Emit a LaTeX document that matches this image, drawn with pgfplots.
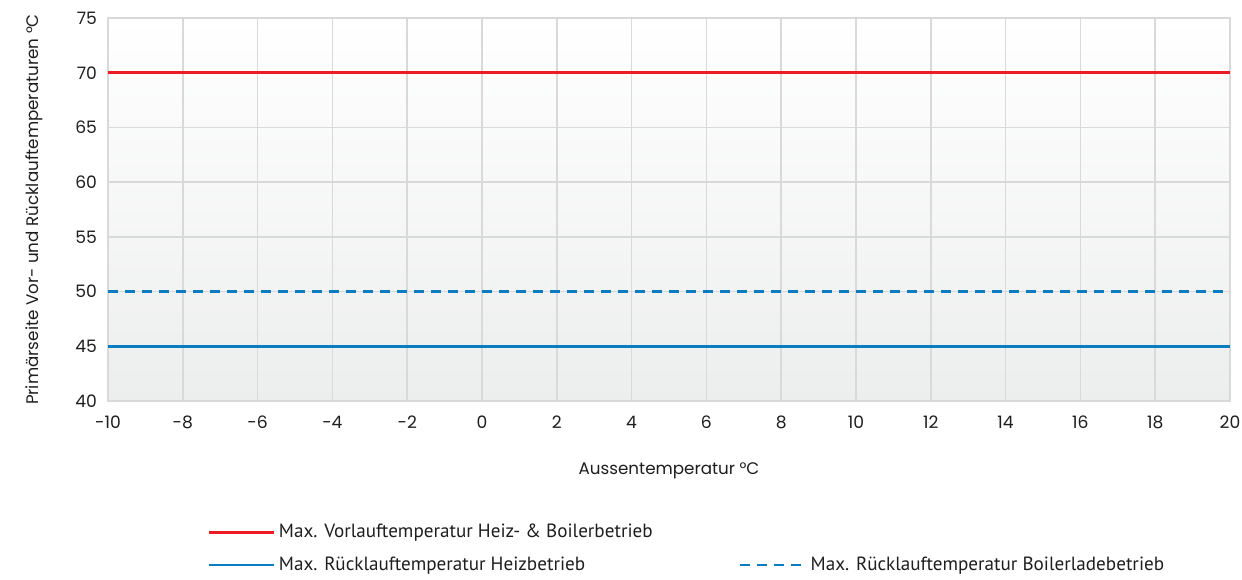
\documentclass[border=0pt]{standalone}
\usepackage{fontspec}
\setmainfont{Poppins}
\newfontfamily\legfont{PT Sans}
\usepackage{pgfplots}
\pgfplotsset{compat=1.18}

\definecolor{vlred}{RGB}{237,28,36}
\definecolor{rlblue}{RGB}{10,124,193}
\definecolor{gridgray}{RGB}{217,217,217}
\definecolor{bgbottom}{RGB}{236,238,237}
\definecolor{txt}{RGB}{30,30,30}

\begin{document}
\begin{tikzpicture}[x=1bp,y=1bp]
% frame of the page: 1242x579 px at 0.5 bp each
\path[use as bounding box] (-54,-89) rectangle (567,200.5);
\begin{axis}[
  at={(0,0)}, anchor=south west,
  scale only axis,
  width=561bp, height=191.5bp,
  xmin=-10, xmax=20,
  ymin=40, ymax=75,
  xtick={-10,-8,...,20},
  xticklabels={-10,-8,-6,-4,-2,0,2,4,6,8,10,12,14,16,18,20},
  ytick={40,45,...,75},
  grid=major,
  grid style={gridgray, line width=0.8bp},
  axis line style={gridgray, line width=0.8bp},
  major tick length=0pt,
  tick style={draw=none},
  axis background/.style={shade, top color=white, bottom color=bgbottom},
  tick label style={font=\fontsize{8.6}{10}\selectfont, text=txt},
  /pgf/number format/assume math mode=true,
  xticklabel style={yshift=-4bp},
  yticklabel style={xshift=-2bp},
  label style={font=\fontsize{8.4}{10}\selectfont, text=txt},
  xlabel={Aussentemperatur °C},
  xlabel style={at={(axis description cs:0.5,0)}, anchor=north, yshift=-27.5bp},
  ylabel={Primärseite Vor- und Rücklauftemperaturen °C},
  ylabel style={at={(axis description cs:0,0.5)}, anchor=south, yshift=29bp},
  legend columns=2,
  legend cell align=left,
  legend style={draw=none, fill=none, at={(0.088,-0.31)}, anchor=north west,
    font=\legfont\fontsize{9.6}{11}\selectfont, text=txt,
    inner sep=0pt, row sep=4bp,
    /tikz/every even column/.append style={column sep=0pt}},
  legend image code/.code={\draw[#1] (0bp,0bp) -- (32.5bp,0bp);},
]
\addplot[vlred, line width=1.4bp] coordinates {(-10,70) (20,70)};
\addlegendentry{\makebox[228bp][l]{Max. Vorlauftemperatur Heiz- \& Boilerbetrieb}}
\addlegendimage{empty legend}
\addlegendentry{}
\addplot[rlblue, line width=1.4bp] coordinates {(-10,45) (20,45)};
\addlegendentry{\makebox[228bp][l]{Max. Rücklauftemperatur Heizbetrieb}}
\addplot[rlblue, line width=1.4bp, dash pattern=on 5bp off 3.5bp] coordinates {(-10,50) (20,50)};
\addlegendentry{Max. Rücklauftemperatur Boilerladebetrieb}
\end{axis}
\end{tikzpicture}
\end{document}
